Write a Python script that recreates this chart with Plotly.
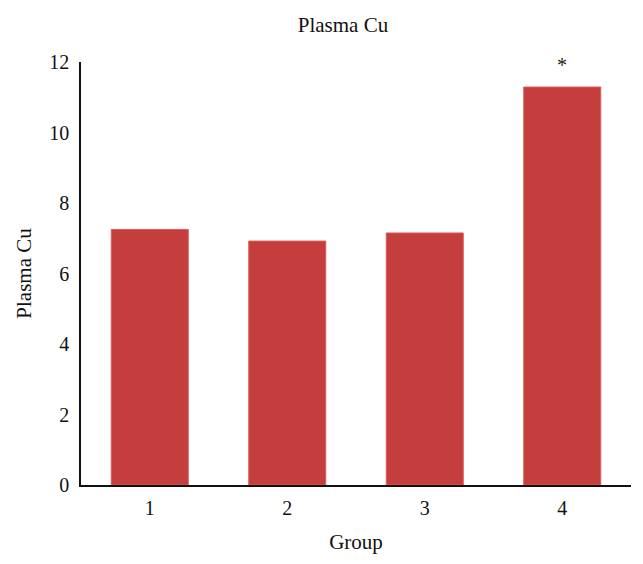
import plotly.graph_objects as go

groups = ["1", "2", "3", "4"]
plasma_cu = [7.25, 6.92, 7.15, 11.29]
significance = ["", "", "", "*"]
y_ticks = [0, 2, 4, 6, 8, 10, 12]

FONT = "Liberation Serif, Times New Roman, serif"

fig = go.Figure()
fig.add_trace(go.Bar(
    x=groups, y=plasma_cu,
    marker=dict(color="#C53E3E", line=dict(color="#DD5A5A", width=1)),
    width=0.56,
    showlegend=False,
))

for i, (v, s) in enumerate(zip(plasma_cu, significance)):
    if s:
        fig.add_annotation(x=i, y=v, xref="x", yref="y", text=s, showarrow=False,
                           yanchor="bottom", yshift=9,
                           font=dict(family=FONT, size=20, color="#222"))

fig.update_layout(
    width=643, height=564,
    margin=dict(l=73, r=20, t=54, b=87),
    paper_bgcolor="white", plot_bgcolor="white",
    font=dict(family=FONT, size=20, color="#111"),
    title=dict(text="Plasma Cu", x=(343 - 8) / 643, xanchor="center", y=1 - 17 / 564,
               yanchor="middle", yref="container", font=dict(family=FONT, size=21)),
    xaxis=dict(
        type="category", range=[-0.5, 3.5],
        showline=True, linecolor="#111", linewidth=1.5, ticks="",
        showgrid=False, zeroline=False, ticklabelstandoff=4,
        title=dict(text="Group", standoff=17, font=dict(size=21)),
        tickfont=dict(size=20),
    ),
    yaxis=dict(
        range=[0, 12], tickvals=y_ticks, showline=True, linecolor="#111", linewidth=1.5,
        ticks="", showgrid=False, zeroline=False, ticklabelstandoff=6,
        title=dict(text="Plasma Cu", standoff=12, font=dict(size=21)),
        tickfont=dict(size=20),
    ),
)

fig.write_html("out.html")
